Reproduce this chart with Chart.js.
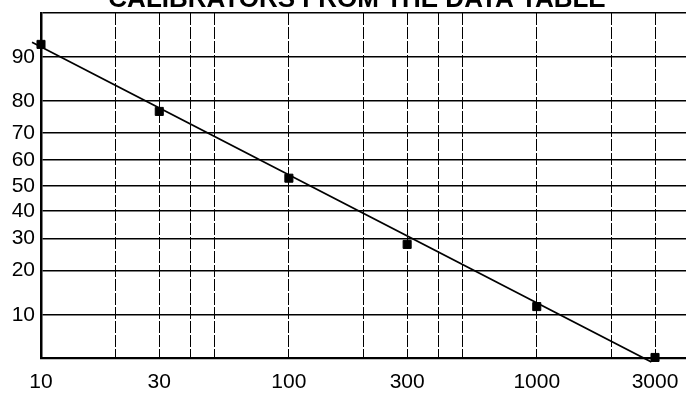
<!DOCTYPE html>
<html>
<head>
<meta charset="utf-8">
<script src="https://cdn.jsdelivr.net/npm/chart.js@4/dist/chart.umd.min.js"></script>
<style>
  html, body { margin: 0; padding: 0; background: #fff; }
  canvas { display: block; }
</style>
</head>
<body>
<canvas id="calib" width="686" height="393"></canvas>
<script>
// calibrators (x = concentration, y = % bound)
var concentrations = [10, 30, 100, 300, 1000, 3000];
var percentBound = [92, 77, 53, 28, 11.5, 4.4];

// fitted line, two ends
var fitX = [9.2, 2900];
var fitPercent = [92.3, 4.0];

// axis ticks
var xGridValues = [10, 20, 30, 40, 50, 100, 200, 300, 400, 500, 1000, 2000, 3000];
var xTickLabels = ['10', '30', '100', '300', '1000', '3000'];
var yTickPercents = [10, 20, 30, 40, 50, 60, 70, 80, 90];
var yTopPercent = 95.7;
var yBottomPercent = 4.35;

var titleText = 'CALIBRATORS FROM THE DATA TABLE';

// inverse normal cdf (probability paper)
function probit(pct) {
    var p = pct / 100;
    var a = [-3.969683028665376e+01, 2.209460984245205e+02, -2.759285104469687e+02, 1.383577518672690e+02, -3.066479806614716e+01, 2.506628277459239e+00];
    var b = [-5.447609879822406e+01, 1.615858368580409e+02, -1.556989798598866e+02, 6.680131188771972e+01, -1.328068155288572e+01];
    var c = [-7.784894002430293e-03, -3.223964580411365e-01, -2.400758277161838e+00, -2.549732539343734e+00, 4.374664141464968e+00, 2.938163982698783e+00];
    var d = [7.784695709041462e-03, 3.224671290700398e-01, 2.445134137142996e+00, 3.754408661907416e+00];
    var pl = 0.02425, q, r;
    if (p < pl) {
        q = Math.sqrt(-2 * Math.log(p));
        return (((((c[0]*q+c[1])*q+c[2])*q+c[3])*q+c[4])*q+c[5]) / ((((d[0]*q+d[1])*q+d[2])*q+d[3])*q+1);
    }
    if (p > 1 - pl) {
        q = Math.sqrt(-2 * Math.log(1 - p));
        return -(((((c[0]*q+c[1])*q+c[2])*q+c[3])*q+c[4])*q+c[5]) / ((((d[0]*q+d[1])*q+d[2])*q+d[3])*q+1);
    }
    q = p - 0.5; r = q * q;
    return (((((a[0]*r+a[1])*r+a[2])*r+a[3])*r+a[4])*r+a[5])*q / (((((b[0]*r+b[1])*r+b[2])*r+b[3])*r+b[4])*r+1);
}

var points = [];
for (var i = 0; i < concentrations.length; i++) {
    points.push({x: concentrations[i], y: probit(percentBound[i])});
}
var fitPoints = [];
for (var j = 0; j < fitX.length; j++) {
    fitPoints.push({x: fitX[j], y: probit(fitPercent[j])});
}

var yTop = probit(yTopPercent);
var yBottom = probit(yBottomPercent);

const titlePlugin = {
    id: 'cutTitle',
    afterDraw: function (chart) {
        var ctx = chart.ctx;
        ctx.save();
        ctx.font = 'bold 26px "Liberation Sans", Arial, sans-serif';
        ctx.fillStyle = '#000';
        ctx.textAlign = 'center';
        ctx.textBaseline = 'alphabetic';
        ctx.fillText(titleText, 357, 7);
        ctx.restore();
    }
};

const data = {
    datasets: [
        {
            type: 'line',
            data: fitPoints,
            borderColor: '#000',
            borderWidth: 1.8,
            pointRadius: 0,
            clip: false
        },
        {
            type: 'scatter',
            data: points,
            backgroundColor: '#000',
            borderColor: '#000',
            pointStyle: 'rect',
            pointRadius: 5.7,
            clip: false
        }
    ]
};

const config = {
    type: 'scatter',
    data: data,
    options: {
        responsive: false,
        animation: false,
        layout: { autoPadding: false, padding: { top: 13, left: 0, right: 0, bottom: 0 } },
        plugins: {
            legend: { display: false },
            tooltip: { enabled: false }
        },
        scales: {
            x: {
                type: 'logarithmic',
                min: 10,
                max: 4000,
                afterBuildTicks: function (scale) {
                    scale.ticks = xGridValues.map(function (v) { return {value: v}; });
                },
                afterFit: function (scale) {
                    scale.height = 35;
                    scale.paddingLeft = 0;
                    scale.paddingRight = 0;
                },
                grid: { color: '#000', lineWidth: 1, drawTicks: false },
                border: { display: true, color: '#000', width: 2.2, dash: [12, 2] },
                ticks: {
                    autoSkip: false,
                    maxRotation: 0,
                    padding: 12,
                    color: '#000',
                    font: { family: '"Liberation Sans", Arial, sans-serif', size: 21 },
                    callback: function (value) {
                        var s = String(Math.round(value));
                        return xTickLabels.indexOf(s) >= 0 ? s : '';
                    }
                }
            },
            y: {
                type: 'linear',
                min: yBottom,
                max: yTop,
                afterBuildTicks: function (scale) {
                    var t = yTickPercents.map(function (p) { return {value: probit(p), label: String(p)}; });
                    t.push({value: yTop, label: ''});
                    scale.ticks = t;
                },
                afterFit: function (scale) {
                    scale.width = 41;
                    scale.paddingTop = 0;
                    scale.paddingBottom = 0;
                },
                grid: { color: '#000', lineWidth: 1.6, drawTicks: false },
                border: { display: true, color: '#000', width: 2.5 },
                ticks: {
                    autoSkip: false,
                    padding: 6,
                    color: '#000',
                    font: { family: '"Liberation Sans", Arial, sans-serif', size: 21 },
                    callback: function (value, index, ticks) {
                        return ticks[index].label;
                    }
                }
            }
        }
    },
    plugins: [titlePlugin]
};

const chart = new Chart(document.getElementById('calib'), config);
</script>
</body>
</html>
